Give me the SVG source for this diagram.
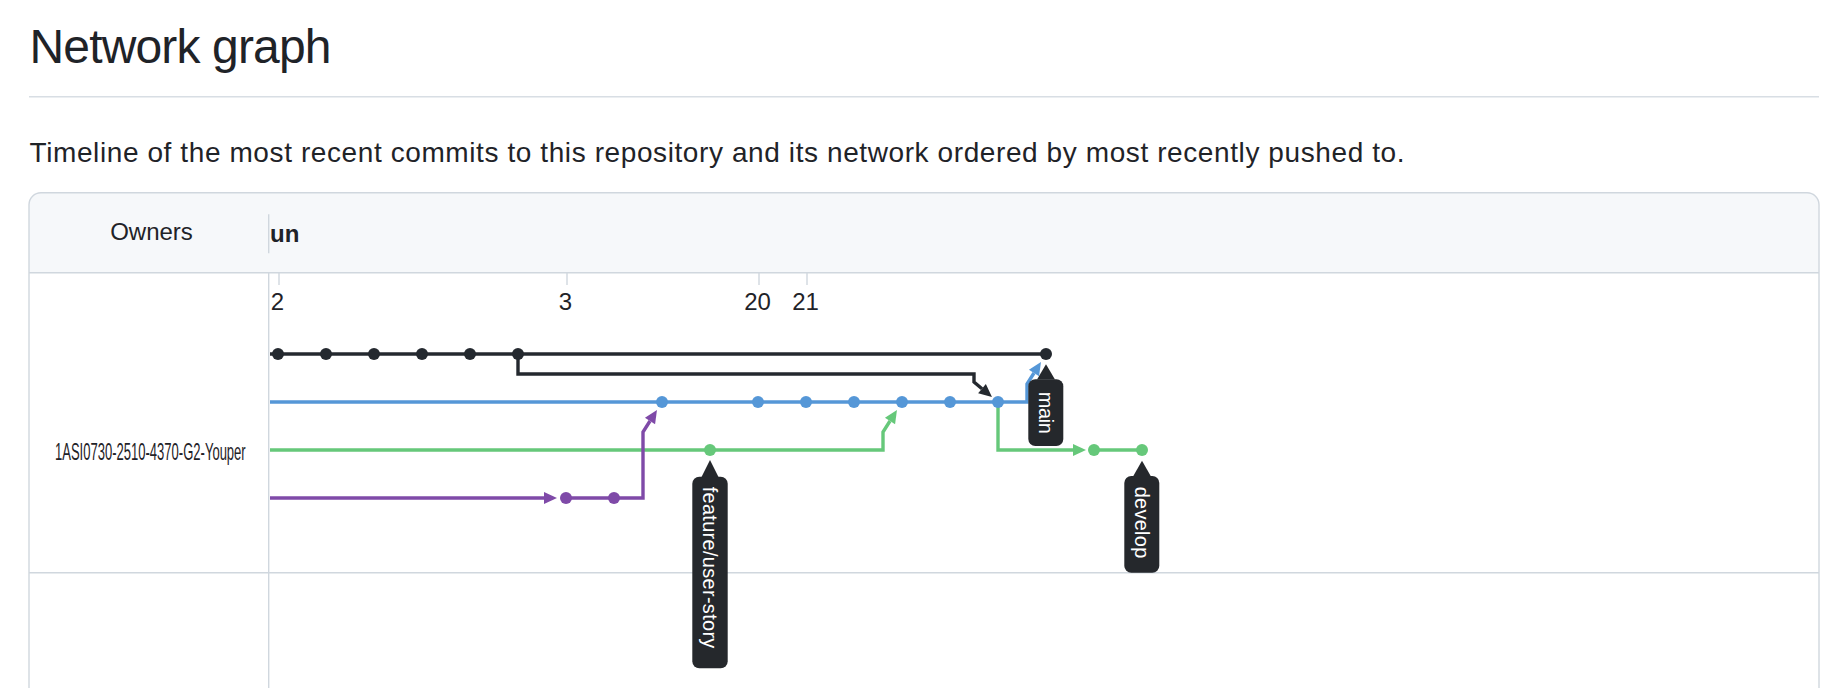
<svg xmlns="http://www.w3.org/2000/svg" width="1840" height="688" viewBox="0 0 1840 688">
<style>
text{font-family:"Liberation Sans",Arial,Helvetica,sans-serif;fill:#1f2328}
.grid{stroke:#d0d7de;stroke-width:1.4;fill:none}
.ln{fill:none;stroke-width:3.4;stroke-linejoin:miter;stroke-linecap:butt}
.k{stroke:#24292f}.b{stroke:#5597d7}.g{stroke:#66c87a}.p{stroke:#7f4aa8}
.dk{fill:#24292f}.db{fill:#5597d7}.dg{fill:#66c87a}.dp{fill:#7f4aa8}
.lab{fill:#25282c}
.labt{fill:#ffffff;font-size:20px}
.date{font-size:24px;text-anchor:middle}
</style>
<defs>
<marker id="ak" markerUnits="userSpaceOnUse" markerWidth="14" markerHeight="14" refX="0" refY="0" viewBox="0 -7 14 14" orient="auto" overflow="visible"><path d="M0,-6 L13,0 L0,6 Z" fill="#24292f"/></marker>
<marker id="ab" markerUnits="userSpaceOnUse" markerWidth="14" markerHeight="14" refX="0" refY="0" viewBox="0 -7 14 14" orient="auto" overflow="visible"><path d="M0,-6 L13,0 L0,6 Z" fill="#5597d7"/></marker>
<marker id="ag" markerUnits="userSpaceOnUse" markerWidth="14" markerHeight="14" refX="0" refY="0" viewBox="0 -7 14 14" orient="auto" overflow="visible"><path d="M0,-6 L13,0 L0,6 Z" fill="#66c87a"/></marker>
<marker id="ap" markerUnits="userSpaceOnUse" markerWidth="14" markerHeight="14" refX="0" refY="0" viewBox="0 -7 14 14" orient="auto" overflow="visible"><path d="M0,-6 L13,0 L0,6 Z" fill="#7f4aa8"/></marker>
</defs>
<rect width="1840" height="688" fill="#ffffff"/>

<g id="heading">
<text x="29.5" y="62.7" font-size="48" textLength="302">Network graph</text>
<line x1="29" y1="96.7" x2="1819" y2="96.7" stroke="#d8dee4" stroke-width="1.4"/>
<text x="29.5" y="162.3" font-size="28" textLength="1375">Timeline of the most recent commits to this repository and its network ordered by most recently pushed to.</text>
</g>

<g id="table">
<path d="M29 272.7 V204.7 A12 12 0 0 1 41 192.7 H1807 A12 12 0 0 1 1819 204.7 V272.7 Z" fill="#f6f8fa"/>
<path class="grid" d="M29 700 V204.7 A12 12 0 0 1 41 192.7 H1807 A12 12 0 0 1 1819 204.7 V700"/>
<line class="grid" x1="29" y1="272.7" x2="1819" y2="272.7"/>
<line class="grid" x1="29" y1="572.7" x2="1819" y2="572.7"/>
<line class="grid" x1="268.7" y1="214.3" x2="268.7" y2="253.3"/>
<line class="grid" x1="268.7" y1="272.7" x2="268.7" y2="700"/>
<text x="151.5" y="240" font-size="24" text-anchor="middle">Owners</text>
<text x="270" y="242.3" font-size="24" font-weight="bold">un</text>
<text x="55" y="460" font-size="24" textLength="190.7" lengthAdjust="spacingAndGlyphs">1ASI0730-2510-4370-G2-Youper</text>
</g>

<g id="dates">
<line class="grid" x1="279" y1="273" x2="279" y2="285"/>
<line class="grid" x1="567" y1="273" x2="567" y2="285"/>
<line class="grid" x1="759" y1="273" x2="759" y2="285"/>
<line class="grid" x1="807" y1="273" x2="807" y2="285"/>
<text class="date" x="277.5" y="310">2</text>
<text class="date" x="565.5" y="310">3</text>
<text class="date" x="757.5" y="310">20</text>
<text class="date" x="805.5" y="310">21</text>
</g>

<g id="connectors">
<path class="ln k" d="M270 354 H1046"/>
<path class="ln k" d="M518 354 V374 H974 V382 L982 388.7" marker-end="url(#ak)"/>
<path class="ln b" d="M270 402 H1027 V384 L1034 373" marker-end="url(#ab)"/>
<path class="ln g" d="M270 450 H883 V432 L890 421" marker-end="url(#ag)"/>
<path class="ln g" d="M998 402 V450 H1073" marker-end="url(#ag)"/>
<path class="ln g" d="M1094 450 H1142"/>
<path class="ln p" d="M270 498 H544" marker-end="url(#ap)"/>
<path class="ln p" d="M566 498 H643 V432 L650 421" marker-end="url(#ap)"/>
</g>

<g id="branch-black">
<circle class="dk" cx="278" cy="354" r="6"/>
<circle class="dk" cx="326" cy="354" r="6"/>
<circle class="dk" cx="374" cy="354" r="6"/>
<circle class="dk" cx="422" cy="354" r="6"/>
<circle class="dk" cx="470" cy="354" r="6"/>
<circle class="dk" cx="518" cy="354" r="6"/>
<circle class="dk" cx="1046" cy="354" r="6"/>
</g>
<g id="branch-blue">
<circle class="db" cx="662" cy="402" r="6"/>
<circle class="db" cx="758" cy="402" r="6"/>
<circle class="db" cx="806" cy="402" r="6"/>
<circle class="db" cx="854" cy="402" r="6"/>
<circle class="db" cx="902" cy="402" r="6"/>
<circle class="db" cx="950" cy="402" r="6"/>
<circle class="db" cx="998" cy="402" r="6"/>
</g>
<g id="branch-green">
<circle class="dg" cx="710" cy="450" r="6"/>
<circle class="dg" cx="1094" cy="450" r="6"/>
<circle class="dg" cx="1142" cy="450" r="6"/>
</g>
<g id="branch-purple">
<circle class="dp" cx="566" cy="498" r="6"/>
<circle class="dp" cx="614" cy="498" r="6"/>
</g>

<g id="label-main">
<path class="lab" d="M1046 364.3 L1055 379.5 H1037 Z"/>
<rect class="lab" x="1028.3" y="379.3" width="35" height="66.7" rx="7"/>
<text class="labt" transform="translate(1045.8 412.8) rotate(90)" x="0" y="7" text-anchor="middle" textLength="42.3">main</text>
</g>
<g id="label-feature">
<path class="lab" d="M710 460 L718.5 477 H701.5 Z"/>
<rect class="lab" x="692.3" y="476.7" width="35.4" height="191.6" rx="7"/>
<text class="labt" transform="translate(710 567.5) rotate(90)" x="0" y="7" text-anchor="middle" textLength="161.7">feature/user-story</text>
</g>
<g id="label-develop">
<path class="lab" d="M1142 460.7 L1151 476.5 H1133 Z"/>
<rect class="lab" x="1124.3" y="476" width="35" height="96.7" rx="7"/>
<text class="labt" transform="translate(1141.8 522.5) rotate(90)" x="0" y="7" text-anchor="middle" textLength="71.7">develop</text>
</g>
</svg>
